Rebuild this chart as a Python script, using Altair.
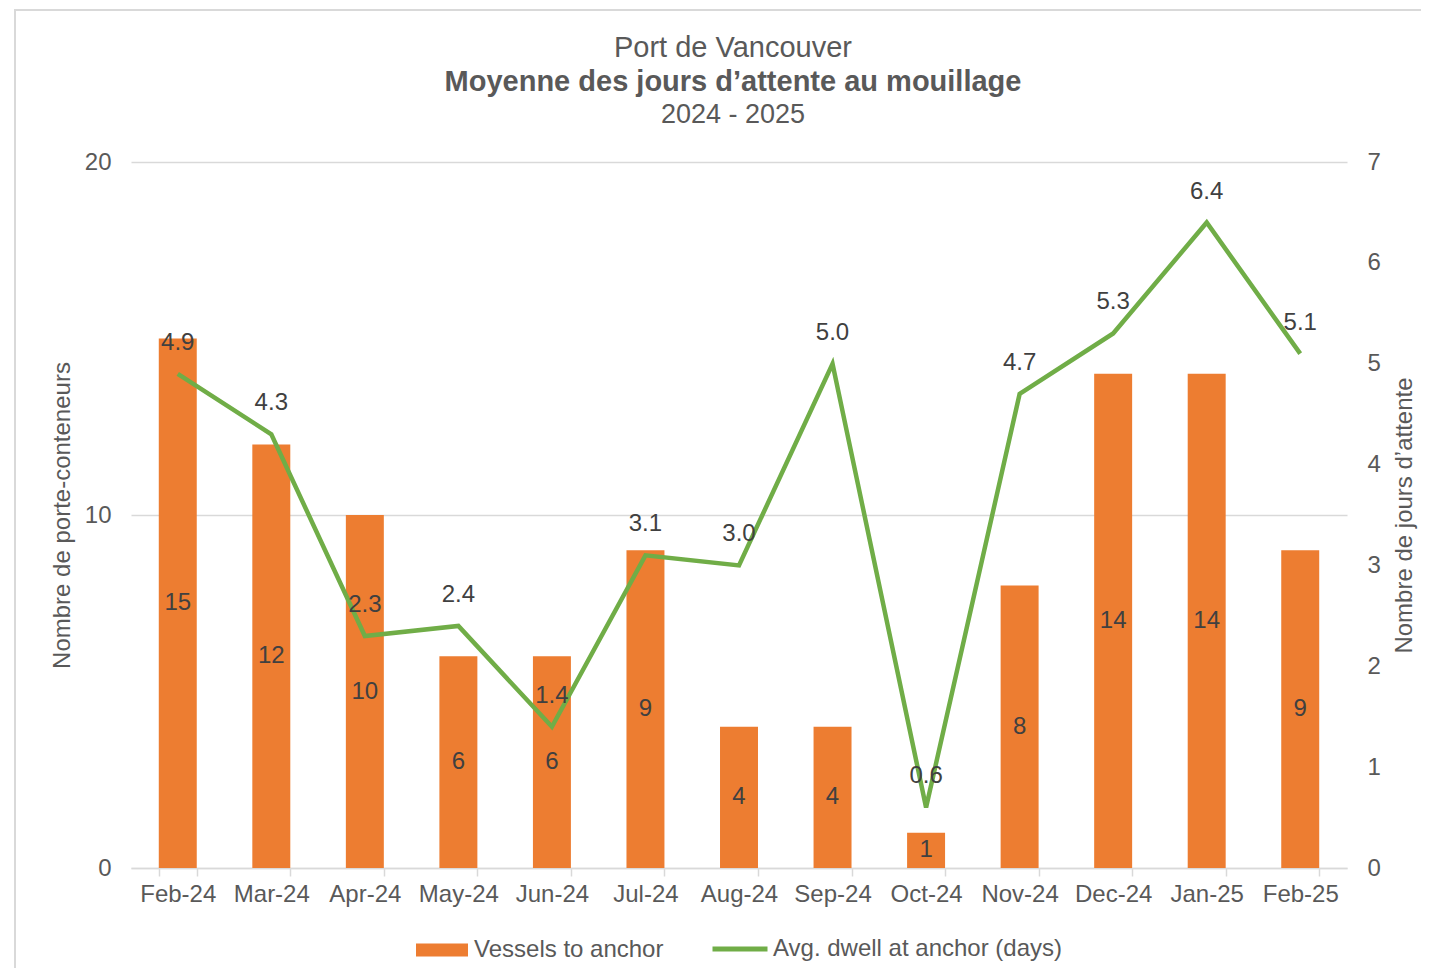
import altair as alt
import pandas as pd

months = ["Feb-24", "Mar-24", "Apr-24", "May-24", "Jun-24", "Jul-24", "Aug-24",
          "Sep-24", "Oct-24", "Nov-24", "Dec-24", "Jan-25", "Feb-25"]
vessels = [15, 12, 10, 6, 6, 9, 4, 4, 1, 8, 14, 14, 9]
dwell = [4.9, 4.3, 2.3, 2.4, 1.4, 3.1, 3.0, 5.0, 0.6, 4.7, 5.3, 6.4, 5.1]
left_ticks = [0, 10, 20]
right_ticks = [0, 1, 2, 3, 4, 5, 6, 7]
title_lines = ["Port de Vancouver", "Moyenne des jours d\u2019attente au mouillage", "2024 - 2025"]

df = pd.DataFrame({
    "month": months,
    "vessels": vessels,
    "dwell": dwell,
    "s1": "Vessels to anchor",
    "s2": "Avg. dwell at anchor (days)",
})

FONT = "Liberation Sans"
GRAY = "#595959"
LBL = "#404040"
ORANGE = "#ED7D31"
GREEN = "#70AD47"
W, H = 1216, 706
FS = 24

xaxis = alt.Axis(title=None, labelAngle=0, labelFontSize=FS, labelColor=GRAY,
                 labelFont=FONT, domainColor="#d9d9d9", domainWidth=1.5,
                 tickColor="#d9d9d9", tickWidth=1.5, tickSize=8,
                 tickBand="extent", labelPadding=6)
xenc = alt.X("month:N", sort=months,
             scale=alt.Scale(paddingInner=0.594, paddingOuter=0.297),
             axis=xaxis)

left_axis = alt.Axis(values=left_ticks, title="Nombre de porte-conteneurs", format="d",
                     titleFont=FONT, titleFontSize=FS, titleFontWeight="normal",
                     titleColor=GRAY, titlePadding=10,
                     labelFont=FONT, labelFontSize=FS, labelColor=GRAY,
                     labelPadding=20, ticks=False, domain=False,
                     grid=True, gridColor="#d9d9d9", gridWidth=1.5)

right_axis = alt.Axis(values=right_ticks, title="Nombre de jours d\u2019attente", format="d",
                      orient="right", titleAngle=270, titleBaseline="top",
                      titleFont=FONT, titleFontSize=FS, titleFontWeight="normal",
                      titleColor=GRAY, titlePadding=12,
                      labelFont=FONT, labelFontSize=FS, labelColor=GRAY,
                      labelPadding=20, ticks=False, domain=False, grid=False)

base = alt.Chart(df)

bars = base.mark_bar(color=ORANGE).encode(
    x=xenc,
    y=alt.Y("vessels:Q", scale=alt.Scale(domain=[0, 20]), axis=left_axis,
            title="Nombre de porte-conteneurs"),
    color=alt.Color("s1:N", scale=alt.Scale(domain=["Vessels to anchor"], range=[ORANGE]),
                    legend=alt.Legend(title=None, orient="none", legendX=285, legendY=762,
                                      symbolType="M-1,-0.25L1,-0.25L1,0.25L-1,0.25Z",
                                      symbolSize=2704, symbolStrokeWidth=0,
                                      labelFont=FONT, labelFontSize=FS, labelColor=GRAY,
                                      labelOffset=6, labelLimit=0, padding=0)),
)

bar_labels = base.transform_calculate(mid="datum.vessels / 2").mark_text(
    font=FONT, fontSize=FS, color=LBL, baseline="middle"
).encode(
    x=alt.X("month:N", sort=months),
    y=alt.Y("mid:Q", axis=left_axis, title="Nombre de porte-conteneurs"),
    text=alt.Text("vessels:Q"),
)

border = base.mark_rect(fill=None, stroke="#d9d9d9", strokeWidth=2, clip=False).encode(
    x=alt.value(-116), x2=alt.value(1330), y=alt.value(-152), y2=alt.value(900)
)

t1 = alt.Chart(pd.DataFrame({"t": [title_lines[0]]})).mark_text(
    font=FONT, fontSize=29, color=GRAY, baseline="middle", align="center"
).encode(x=alt.value(602), y=alt.value(-114), text="t:N")
t2 = alt.Chart(pd.DataFrame({"t": [title_lines[1]]})).mark_text(
    font=FONT, fontSize=29, fontWeight="bold", color=GRAY, baseline="middle", align="center"
).encode(x=alt.value(602), y=alt.value(-80), text="t:N")
t3 = alt.Chart(pd.DataFrame({"t": [title_lines[2]]})).mark_text(
    font=FONT, fontSize=27, color=GRAY, baseline="middle", align="center"
).encode(x=alt.value(602), y=alt.value(-47), text="t:N")

left_layer = alt.layer(bars, bar_labels, border, t1, t2, t3)

line = base.mark_line(strokeWidth=4.5).encode(
    x=alt.X("month:N", sort=months),
    y=alt.Y("dwell:Q", scale=alt.Scale(domain=[0, 7]), axis=right_axis,
            title="Nombre de jours d\u2019attente"),
    stroke=alt.Stroke("s2:N", scale=alt.Scale(domain=["Avg. dwell at anchor (days)"], range=[GREEN]),
                      legend=alt.Legend(title=None, orient="none", legendX=579, legendY=757,
                                        symbolType="stroke", symbolSize=3025,
                                        symbolStrokeWidth=5,
                                        labelFont=FONT, labelFontSize=FS, labelColor=GRAY,
                                        labelOffset=3, labelLimit=0, padding=0)),
)

line_labels = base.mark_text(font=FONT, fontSize=FS, color=LBL, dy=-31,
                             baseline="middle").encode(
    x=alt.X("month:N", sort=months),
    y=alt.Y("dwell:Q", axis=right_axis, title="Nombre de jours d\u2019attente"),
    text=alt.Text("dwell:Q", format=".1f"),
)

right_layer = alt.layer(line, line_labels)

chart = alt.layer(left_layer, right_layer).resolve_scale(
    y="independent", color="independent", stroke="independent"
).properties(
    width=W, height=H,
    autosize=alt.AutoSizeParams(type="none"),
    padding={"left": 123, "top": 154, "right": 74, "bottom": 100},
).configure_view(stroke=None)

chart.save("out.html", embed_options={"renderer": "svg", "actions": False})
